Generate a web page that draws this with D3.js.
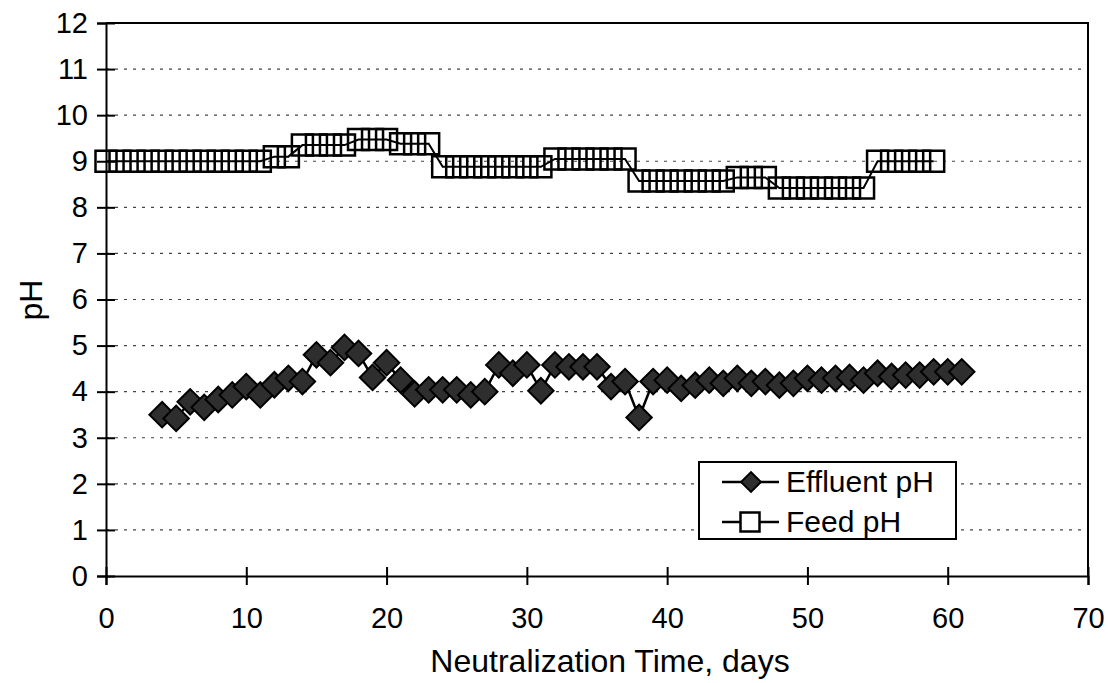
<!DOCTYPE html>
<html>
<head>
<meta charset="utf-8">
<script src="https://cdn.jsdelivr.net/npm/d3@7"></script>
<style>
  body { margin: 0; background: #fff; }
  text { font-family: "Liberation Sans", Arial, sans-serif; fill: #000; }
</style>
</head>
<body>
<div id="chart"></div>
<script>
'use strict';

// feed pH, one reading per day from day 0
var feedDays = d3.range(0, 60);
var feedPH = [
    9.0, 9.0, 9.0, 9.0, 9.0, 9.0, 9.0, 9.0, 9.0, 9.0, 9.0, 9.0,
    9.1, 9.1,
    9.35, 9.35, 9.35, 9.35,
    9.47, 9.47, 9.47,
    9.38, 9.38, 9.38,
    8.88, 8.88, 8.88, 8.88, 8.88, 8.88, 8.88, 8.88,
    9.05, 9.05, 9.05, 9.05, 9.05, 9.05,
    8.57, 8.57, 8.57, 8.57, 8.57, 8.57, 8.57,
    8.65, 8.65, 8.65,
    8.42, 8.42, 8.42, 8.42, 8.42, 8.42, 8.42,
    9.0, 9.0, 9.0, 9.0, 9.0
];

// effluent pH, daily from day 4
var effluentDays = d3.range(4, 62);
var effluentPH = [
    3.5, 3.42, 3.78, 3.66, 3.83, 3.93, 4.11, 3.93, 4.15, 4.29,
    4.22, 4.8, 4.63, 4.96, 4.83, 4.31, 4.63, 4.25, 3.95, 4.04,
    4.04, 4.04, 3.93, 4.0, 4.58, 4.4, 4.58, 4.02, 4.58, 4.54,
    4.54, 4.54, 4.11, 4.22, 3.44, 4.22, 4.25, 4.07, 4.14, 4.25,
    4.18, 4.29, 4.18, 4.22, 4.14, 4.18, 4.29, 4.25, 4.29, 4.31,
    4.25, 4.4, 4.33, 4.36, 4.36, 4.43, 4.43, 4.43
];

var xTicks = [0, 10, 20, 30, 40, 50, 60, 70];
var yTicks = [0, 1, 2, 3, 4, 5, 6, 7, 8, 9, 10, 11, 12];
var seriesNames = ["Effluent pH", "Feed pH"];

var svgWidth = 1108;
var svgHeight = 683;
var tickFont = "29px";
var titleFont = "32px";
var legendFont = "30px";

var svg = d3.select("#chart")
    .append("svg")
    .attr("width", svgWidth)
    .attr("height", svgHeight);

var x = d3.scaleLinear().domain([0, 70]).range([106, 1088]);
var y = d3.scaleLinear().domain([0, 12]).range([576, 23]);

// dotted grid lines
svg.append("g")
    .selectAll("line")
    .data(yTicks.filter(function (d) { return d > 0 && d < 12; }))
    .enter()
    .append("line")
    .attr("x1", x(0))
    .attr("x2", x(70))
    .attr("y1", function (d) { return y(d); })
    .attr("y2", function (d) { return y(d); })
    .attr("stroke", "#444")
    .attr("stroke-width", 1.2)
    .attr("stroke-dasharray", "3,6");

// top and right border
svg.append("path")
    .attr("d", "M" + x(0) + "," + y(12) + "H" + x(70) + "V" + y(0))
    .attr("fill", "none")
    .attr("stroke", "#000")
    .attr("stroke-width", 2);

// axes with crossing ticks
var xAxis = svg.append("g")
    .attr("transform", "translate(0," + y(0) + ")")
    .call(d3.axisBottom(x).tickValues(xTicks).tickSize(9).tickPadding(22));
xAxis.selectAll(".tick line").attr("y1", -9).attr("stroke-width", 2);
xAxis.select(".domain").attr("stroke-width", 2);
xAxis.selectAll("text").style("font-size", tickFont).attr("font-family", null);

var yAxis = svg.append("g")
    .attr("transform", "translate(" + x(0) + ",0)")
    .call(d3.axisLeft(y).tickValues(yTicks).tickSize(9).tickPadding(9));
yAxis.selectAll(".tick line").attr("x1", 9).attr("stroke-width", 2);
yAxis.select(".domain").attr("stroke-width", 2);
yAxis.selectAll("text").style("font-size", tickFont).attr("font-family", null);

// axis titles
svg.append("text")
    .attr("x", 610)
    .attr("y", 672)
    .attr("text-anchor", "middle")
    .style("font-size", titleFont)
    .text("Neutralization Time, days");

svg.append("text")
    .attr("transform", "translate(42,300) rotate(-90)")
    .attr("text-anchor", "middle")
    .style("font-size", titleFont)
    .text("pH");

var line = d3.line()
    .x(function (d) { return x(d[0]); })
    .y(function (d) { return y(d[1]); });

var feed = d3.zip(feedDays, feedPH);
var effluent = d3.zip(effluentDays, effluentPH);

var diamond = d3.symbol().type(d3.symbolSquare).size(18 * 18);
var square = d3.symbol().type(d3.symbolSquare).size(21 * 21);

// feed series: open squares
svg.append("path")
    .datum(feed)
    .attr("d", line)
    .attr("fill", "none")
    .attr("stroke", "#000")
    .attr("stroke-width", 2);

svg.append("g")
    .selectAll("path")
    .data(feed)
    .enter()
    .append("path")
    .attr("d", square)
    .attr("transform", function (d) { return "translate(" + x(d[0]) + "," + y(d[1]) + ")"; })
    .attr("fill", "none")
    .attr("stroke", "#000")
    .attr("stroke-width", 2.5);

// effluent series: filled diamonds
svg.append("path")
    .datum(effluent)
    .attr("d", line)
    .attr("fill", "none")
    .attr("stroke", "#000")
    .attr("stroke-width", 2.5);

svg.append("g")
    .selectAll("path")
    .data(effluent)
    .enter()
    .append("path")
    .attr("d", diamond)
    .attr("transform", function (d) { return "translate(" + x(d[0]) + "," + y(d[1]) + ") rotate(45)"; })
    .attr("fill", "#2e2e2e")
    .attr("stroke", "#000")
    .attr("stroke-width", 2);

// legend
var legend = svg.append("g").attr("transform", "translate(699,462)");
legend.append("rect")
    .attr("width", 257)
    .attr("height", 77)
    .attr("fill", "#fff")
    .attr("stroke", "#000")
    .attr("stroke-width", 2);

seriesNames.forEach(function (name, i) {
    var row = legend.append("g").attr("transform", "translate(0," + (20 + i * 40) + ")");
    row.append("line")
        .attr("x1", 23).attr("x2", 80)
        .attr("stroke", "#000").attr("stroke-width", 2.5);
    if (i === 0) {
        row.append("path")
            .attr("d", d3.symbol().type(d3.symbolSquare).size(14 * 14))
            .attr("transform", "translate(52,0) rotate(45)")
            .attr("fill", "#2e2e2e").attr("stroke", "#000").attr("stroke-width", 2);
    } else {
        row.append("path")
            .attr("d", d3.symbol().type(d3.symbolSquare).size(19 * 19))
            .attr("transform", "translate(51,0)")
            .attr("fill", "#fff").attr("stroke", "#000").attr("stroke-width", 2.5);
    }
    row.append("text")
        .attr("x", 87)
        .attr("y", 10)
        .style("font-size", legendFont)
        .text(name);
});
</script>
</body>
</html>
